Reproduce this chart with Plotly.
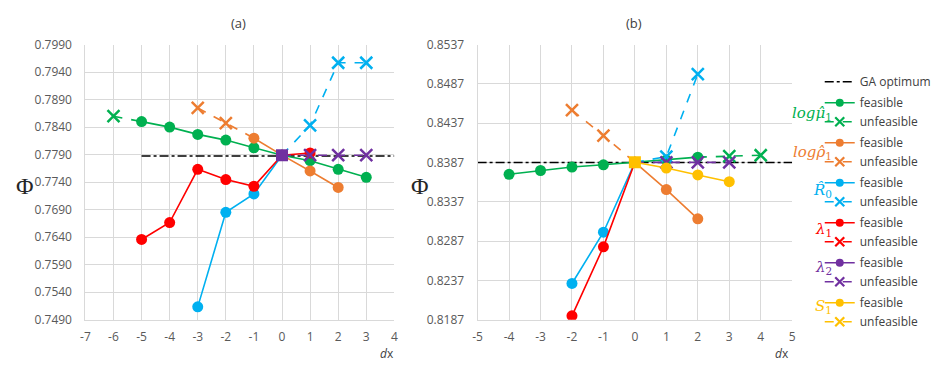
import plotly.graph_objects as go

W, H = 936, 369

# ---------------- data: panel (a) ----------------
a_ga = 0.77875
a_center = 0.77890
a_mu_x = [-5, -4, -3, -2, -1, 0, 1, 2, 3]
a_mu_y = [0.7850, 0.7840, 0.78268, 0.78164, 0.78025, a_center, 0.77789, 0.77633, 0.77487]
a_mu_ux = [-6, -5]
a_mu_uy = [0.78598, 0.7850]
a_rho_x = [-1, 0, 1, 2]
a_rho_y = [0.78199, a_center, 0.77603, 0.77303]
a_rho_ux = [-3, -2, -1]
a_rho_uy = [0.78749, 0.78471, 0.78199]
a_r0_x = [-3, -2, -1, 0]
a_r0_y = [0.75133, 0.76851, 0.77186, a_center]
a_r0_ux = [0, 1, 2, 3]
a_r0_uy = [a_center, 0.78431, 0.79570, 0.79570]
a_l1_x = [-5, -4, -3, -2, -1, 0, 1]
a_l1_y = [0.76358, 0.76666, 0.77633, 0.77447, 0.77325, a_center, 0.77930]
a_l2_x = [0]
a_l2_y = [a_center]
a_l2_ux = [0, 1, 2, 3]
a_l2_uy = [a_center, 0.77890, 0.77890, 0.77890]

# ---------------- data: panel (b) ----------------
b_ga = 0.83870
b_center = 0.83872
b_mu_x = [-4, -3, -2, -1, 0, 1, 2]
b_mu_y = [0.83720, 0.83768, 0.83812, 0.83841, b_center, 0.83902, 0.83938]
b_mu_ux = [2, 3, 4]
b_mu_uy = [0.83938, 0.83950, 0.83962]
b_rho_x = [0, 1, 2]
b_rho_y = [b_center, 0.83525, 0.83153]
b_rho_ux = [-2, -1, 0]
b_rho_uy = [0.84536, 0.84212, b_center]
b_r0_x = [-2, -1, 0]
b_r0_y = [0.82331, 0.82983, b_center]
b_r0_ux = [0, 1, 2]
b_r0_uy = [b_center, 0.83945, 0.84994]
b_l1_x = [-2, -1, 0]
b_l1_y = [0.81919, 0.82797, b_center]
b_l2_x = [0]
b_l2_y = [b_center]
b_l2_ux = [0, 1, 2, 3]
b_l2_uy = [b_center, 0.83872, 0.83872, 0.83872]
b_s1_x = [0, 1, 2, 3]
b_s1_y = [b_center, 0.83800, 0.83711, 0.83626]

a_xticks = list(range(-7, 5))
b_xticks = list(range(-5, 6))
a_yrange = [0.7490, 0.7990]
b_yrange = [0.8187, 0.8537]

GREEN, ORANGE, BLUE, RED, PURPLE, YELLOW = "#00B050", "#ED7D31", "#00B0F0", "#FF0000", "#7030A0", "#FFC000"

fig = go.Figure()

def px_x(p):
    return p / W

def px_y(p):
    return 1 - p / H

def feas(x, y, color, xa, ya, group):
    fig.add_trace(go.Scatter(x=x, y=y, mode="lines+markers", xaxis=xa, yaxis=ya,
                             line=dict(color=color, width=1.6),
                             marker=dict(symbol="circle", size=11, color=color),
                             name="feasible", showlegend=False, legendgroup=group))

def unf_split(x, y, conn_idx, color, xa, ya, group):
    fig.add_trace(go.Scatter(x=x, y=y, mode="lines", xaxis=xa, yaxis=ya,
                             line=dict(color=color, width=1.6, dash="dash"),
                             showlegend=False, hoverinfo="skip"))
    mx = [v for i, v in enumerate(x) if i != conn_idx]
    my = [v for i, v in enumerate(y) if i != conn_idx]
    fig.add_trace(go.Scatter(x=mx, y=my, mode="markers", xaxis=xa, yaxis=ya,
                             marker=dict(symbol="x-thin", size=12, color=color,
                                         line=dict(color=color, width=2.5)),
                             name="unfeasible", showlegend=False, legendgroup=group))

# legend-only traces (in legend order)
def legend_entry(color, kind, group):
    if kind == "f":
        fig.add_trace(go.Scatter(x=[None], y=[None], mode="lines+markers",
                                 line=dict(color=color, width=1.6),
                                 marker=dict(symbol="circle", size=8, color=color),
                                 name="feasible", legendgroup=group))
    else:
        fig.add_trace(go.Scatter(x=[None], y=[None], mode="lines+markers",
                                 line=dict(color=color, width=1.6, dash="dash"),
                                 marker=dict(symbol="x-thin", size=9, color=color,
                                             line=dict(color=color, width=2.2)),
                                 name="unfeasible", legendgroup=group))

# GA optimum lines
fig.add_trace(go.Scatter(x=[-5, 4], y=[a_ga, a_ga], mode="lines", xaxis="x", yaxis="y",
                         line=dict(color="black", width=1.5, dash="dashdot"),
                         name="GA optimum", legendgroup="ga"))
fig.add_trace(go.Scatter(x=[-5, 5], y=[b_ga, b_ga], mode="lines", xaxis="x2", yaxis="y2",
                         line=dict(color="black", width=1.5, dash="dashdot"),
                         showlegend=False, hoverinfo="skip"))

for color, g in [(GREEN, "mu"), (ORANGE, "rho"), (BLUE, "r0"), (RED, "l1"), (PURPLE, "l2"), (YELLOW, "s1")]:
    legend_entry(color, "f", g)
    legend_entry(color, "u", g)

# panel (a)
unf_split(a_mu_ux, a_mu_uy, 1, GREEN, "x", "y", "mu")
unf_split(a_rho_ux, a_rho_uy, 2, ORANGE, "x", "y", "rho")
unf_split(a_r0_ux, a_r0_uy, 0, BLUE, "x", "y", "r0")
feas(a_mu_x, a_mu_y, GREEN, "x", "y", "mu")
feas(a_rho_x, a_rho_y, ORANGE, "x", "y", "rho")
feas(a_r0_x, a_r0_y, BLUE, "x", "y", "r0")
feas(a_l1_x, a_l1_y, RED, "x", "y", "l1")
unf_split(a_l2_ux, a_l2_uy, 0, PURPLE, "x", "y", "l2")
fig.add_trace(go.Scatter(x=a_l2_x, y=a_l2_y, mode="markers", xaxis="x", yaxis="y",
                         marker=dict(symbol="square", size=12, color=PURPLE),
                         showlegend=False))

# panel (b)
unf_split(b_mu_ux, b_mu_uy, 0, GREEN, "x2", "y2", "mu")
unf_split(b_rho_ux, b_rho_uy, 2, ORANGE, "x2", "y2", "rho")
feas(b_mu_x, b_mu_y, GREEN, "x2", "y2", "mu")
feas(b_rho_x, b_rho_y, ORANGE, "x2", "y2", "rho")
feas(b_r0_x, b_r0_y, BLUE, "x2", "y2", "r0")
feas(b_l1_x, b_l1_y, RED, "x2", "y2", "l1")
unf_split(b_r0_ux, b_r0_uy, 0, BLUE, "x2", "y2", "r0")
unf_split(b_l2_ux, b_l2_uy, 0, PURPLE, "x2", "y2", "l2")
feas(b_s1_x, b_s1_y, YELLOW, "x2", "y2", "s1")
fig.add_trace(go.Scatter(x=b_s1_x[:1], y=b_s1_y[:1], mode="markers", xaxis="x2", yaxis="y2",
                         marker=dict(symbol="square", size=12, color=YELLOW),
                         showlegend=False))

TICKFONT = dict(family="Open Sans", size=12, color="#595959")
GRID = "#d9d9d9"

def xaxis(rng, ticks, dom, anchor):
    return dict(domain=dom, range=rng, tickvals=ticks, ticktext=[str(t) for t in ticks],
                showgrid=True, gridcolor=GRID, gridwidth=1, zeroline=False,
                showline=True, linecolor=GRID, linewidth=1, mirror=False,
                tickfont=TICKFONT, ticks="", ticklabelstandoff=6, anchor=anchor, fixedrange=True)

def yaxis(rng, dom, anchor):
    return dict(domain=dom, range=rng, tick0=rng[0], dtick=0.005, tickformat=".4f",
                showgrid=True, gridcolor=GRID, gridwidth=1, zeroline=False,
                showline=True, linecolor=GRID, linewidth=1,
                tickfont=TICKFONT, ticks="", ticklabelstandoff=10, anchor=anchor, fixedrange=True)

ydom = [px_y(325.7), px_y(37.3)]
fig.update_layout(
    width=W, height=H, margin=dict(l=0, r=0, t=0, b=0),
    paper_bgcolor="white", plot_bgcolor="white",
    xaxis=xaxis([-7, 4], a_xticks, [px_x(81.7), px_x(395.7)], "y"),
    yaxis=yaxis(a_yrange, ydom, "x"),
    xaxis2=xaxis([-5, 5], b_xticks, [px_x(480.3), px_x(800)], "y2"),
    yaxis2=yaxis(b_yrange, ydom, "x2"),
    showlegend=True,
    legend=dict(x=px_x(828), y=px_y(61), xanchor="left", yanchor="top",
                font=dict(family="Open Sans", size=12, color="#404040"),
                tracegroupgap=2, bgcolor="rgba(0,0,0,0)", itemwidth=30),
)

ann = []
def txt(x, y, s, size=12, color="#404040", family="Open Sans", xanchor="center"):
    ann.append(dict(x=px_x(x), y=px_y(y), xref="paper", yref="paper", text=s, showarrow=False,
                    font=dict(family=family, size=size, color=color), xanchor=xanchor, yanchor="middle"))

txt(237, 15, "(a)", 13)
txt(639, 15, "(b)", 13)
txt(20, 186, "Φ", 24, "#262626", "Liberation Serif")
txt(422, 186, "Φ", 24, "#262626", "Liberation Serif")
txt(388, 361, "<i>d</i>x", 12)
txt(790, 361, "<i>d</i>x", 12)

SERIF = "DejaVu Serif"
txt(843, 110, "<i>logμ̂</i><sub>1</sub>", 15, GREEN, SERIF, "right")
txt(843, 150, "<i>logρ̂</i><sub>1</sub>", 15, ORANGE, SERIF, "right")
txt(843, 190, "<i>R̂</i><sub>0</sub>", 15, BLUE, SERIF, "right")
txt(843, 231, "<i>λ</i><sub>1</sub>", 15, RED, SERIF, "right")
txt(843, 271, "<i>λ</i><sub>2</sub>", 15, PURPLE, SERIF, "right")
txt(843, 312, "<i>S</i><sub>1</sub>", 15, YELLOW, SERIF, "right")
fig.update_layout(annotations=ann)

fig.write_html("out.html")
